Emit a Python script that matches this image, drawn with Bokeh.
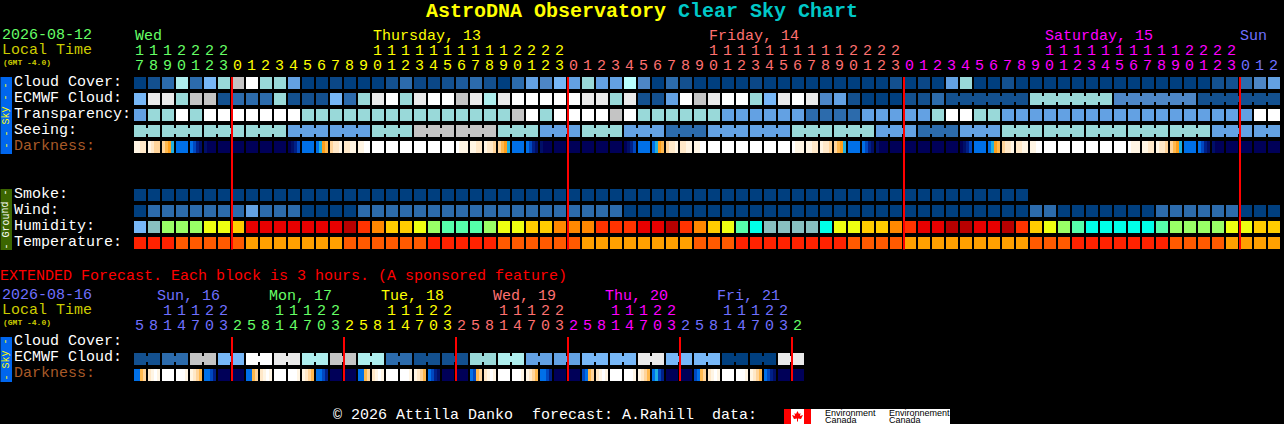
from bokeh.plotting import figure
from bokeh.models import ColumnDataSource, Range1d
from bokeh.core.properties import value
from bokeh.embed import file_html
from bokeh.resources import INLINE

# ---------- DATA ----------
cloud_cover = [0,10,20,70,20,50,60,80,100,60,60,40,0,0,5,0,0,0,10,20,5,
               5,10,15,20,10,0,20,40,30,50,40,60,40,40,72,30,0,20,10,0,0,0,0,5,0,0,0,0,0,0,0,
               0,0,10,0,5,0,40,60,0,0,10,0,0,0,0,0,0,0,0,0,0,0,0,0,0,10,10,20,30,40]
ecmwf_cloud = [50,90,90,60,80,80,10,20,20,20,60,10,10,10,50,20,60,90,100,60,90,
               100,100,80,90,70,90,100,100,100,100,100,90,90,60,90,10,10,40,100,80,90,100,100,60,50,90,100,90,30,40,10,
               0,0,0,10,10,20,10,10,10,10,10,10,60,60,60,60,60,60,30,30,30,30,30,30,10,10,10,10,10,10]
transparency = [40,60,60,100,60,100,100,100,100,100,100,100,60,60,60,60,60,60,60,60,60,
                60,60,60,60,60,60,80,100,60,100,100,100,100,80,100,60,60,60,60,60,60,40,40,40,40,40,40,20,20,20,20,
                40,40,40,40,40,60,100,100,60,60,40,40,40,40,40,40,40,40,40,40,40,40,40,40,40,40,40,40,100,100]
seeing = [60,60,60,60,60,60,60,60,60,60,60,40,40,40,40,40,40,60,60,60,80,
          80,80,80,80,80,60,60,60,40,40,40,60,60,60,40,40,40,20,20,20,40,40,40,40,40,40,60,60,60,60,60,
          60,40,40,40,20,20,20,40,40,40,60,60,60,60,60,60,60,60,60,60,60,60,60,60,60,40,40,40,40,40]
smoke = [0]*64
wind = [0,20,20,20,20,20,20,20,40,20,20,20,0,0,0,0,20,20,20,20,20,
        20,20,20,20,20,20,20,20,20,20,20,20,20,20,0,0,0,0,0,0,0,0,0,0,0,0,0,0,0,0,0,
        0,0,0,0,0,0,0,0,0,0,0,0,20,20,0,0,0,0,0,0,0,20,20,20,20,20,20,0,0,0]
humidity = [25,30,45,45,45,50,50,55,70,70,70,70,70,70,70,85,65,60,55,55,50,
            45,40,40,40,45,50,50,55,55,60,60,60,65,65,65,70,70,85,65,60,55,50,40,35,30,30,30,30,35,50,50,
            55,55,60,65,70,70,85,85,70,70,85,65,55,50,45,40,35,35,35,35,35,40,45,45,45,45,50,50,55,55]
temperature = [3,3,3,2,2,2,2,2,1,1,1,1,1,1,1,2,2,2,2,2,2,
               3,3,3,3,3,2,2,2,2,2,2,1,1,1,1,1,1,1,1,2,2,2,3,3,3,3,3,3,3,3,2,
               2,2,2,1,1,1,1,1,1,1,1,1,2,2,2,3,3,3,3,3,3,3,2,2,2,2,1,1,1,1]
darkness = [
 [1,1,2,2],[1,2,3,3],[3,4,5,6],[7,7,7,7],[7,8,9,10],[10,11,11,11],[11,11,11,11],[11,11,11,11],[11,11,11,11],[11,11,11,11],[11,11,11,11],
 [11,10,9,8],[7,7,7,7],[7,6,5,4],[3,2,2,1],[2,2,1,1],[1,1,0,0],[0,0,0,0],[0,0,0,0],[0,0,0,0],[0,0,0,0],[0,0,0,0],[0,0,0,0],
 [0,1,1,1],[1,1,2,2],[1,2,2,3],[3,4,5,6],[7,7,7,7],[7,8,9,10],[10,11,11,11],[11,11,11,11],[11,11,11,11],[11,11,11,11],[11,11,11,11],[11,11,11,11],
 [11,10,9,8],[7,7,7,7],[7,6,5,4],[3,2,2,1],[2,2,1,1],[1,1,0,0],[0,0,0,0],[0,0,0,0],[0,0,0,0],[0,0,0,0],[0,0,0,0],[0,0,0,0],
 [0,1,1,1],[1,1,2,2],[1,2,2,3],[3,4,5,6],[7,7,7,7],[7,8,9,10],[10,11,11,11],[11,11,11,11],[11,11,11,11],[11,11,11,11],[11,11,11,11],[11,11,11,11],
 [11,10,9,8],[7,7,7,7],[7,6,5,4],[3,2,2,1],[2,2,1,1],[1,1,0,0],[0,0,0,0],[0,0,0,0],[0,0,0,0],[0,0,0,0],[0,0,0,0],[0,0,0,0],
 [0,1,1,1],[1,1,2,2],[1,2,2,3],[3,4,5,6],[7,7,7,7],[7,8,9,10],[10,11,11,11],[11,11,11,11],[11,11,11,11],[11,11,11,11],[11,11,11,11],
]
ext_ecmwf = [10,10,20,20,80,80,50,50,100,100,90,90,70,70,80,80,70,70,20,20,10,10,10,10,
             60,60,70,70,40,40,40,40,50,50,50,50,90,90,50,50,50,50,0,0,0,0,90,90]
ext_darkness = [
 [7,7,4,3],[2,1,0,1],[0,0,0,0],[0,0,0,1],[1,2,3,4],[7,7,8,9],[11,11,11,11],[11,11,11,11],
 [7,7,4,3],[2,1,0,1],[0,0,0,0],[0,0,0,1],[1,2,3,4],[7,7,8,9],[11,11,11,11],[11,11,11,11],
 [7,7,4,3],[2,1,0,1],[0,0,0,0],[0,0,0,1],[1,2,3,4],[7,8,9,10],[11,11,11,11],[11,11,11,11],
 [7,8,4,3],[2,1,0,1],[0,0,0,0],[0,0,0,1],[1,2,3,4],[7,7,8,9],[11,11,11,11],[11,11,11,11],
 [8,7,4,3],[2,1,0,1],[0,0,0,0],[0,0,0,1],[1,2,3,4],[7,6,8,9],[11,11,11,11],[11,11,11,11],
 [8,7,4,3],[2,1,0,1],[0,0,0,0],[0,0,0,1],[1,2,3,4],[7,8,9,10],[11,11,11,11],[11,11,11,11],
]
main_tens = "1112222          11111111112222          11111111112222          11111111112222   "
main_ones = "7890123012345678901234567890123012345678901234567890123012345678901234567890123012"
ext_tens = "  11122   11122   11122   11122   11122   11122 "
ext_ones = "581470325814703258147032581470325814703258147032"
main_days = ["Wed","Thursday, 13","Friday, 14","Saturday, 15","Sun"]
ext_days = ["Sun, 16","Mon, 17","Tue, 18","Wed, 19","Thu, 20","Fri, 21"]
main_midnights = [7,31,55,79]
ext_midnights = [7,15,23,31,39,47]
seeing_groups = [(0,1)]+[(s,min(s+2,81)) for s in range(2,82,3)]
ecmwf_groups = [(58,63),(64,69),(70,75),(76,81)]
ext_groups = [(s,s+1) for s in range(0,48,2)]

# ---------- STYLES ----------
CLOUD = {0:"#003f7f",5:"#0b4787",10:"#13508f",15:"#1c5a9b",20:"#2c6bac",30:"#4d86c6",40:"#63a1e3",50:"#77b7f7",
         60:"#99d9d9",70:"#aeeeee",72:"#b8ffff",80:"#c4c4c4",90:"#eaeaea",100:"#ffffff"}
HUM = {25:"#77b7f7",30:"#88c0c0",35:"#00ffe8",40:"#55ffaa",45:"#99ff66",50:"#eeff11",55:"#ffcc00",60:"#ff8800",
       65:"#ff3300",70:"#e80000",85:"#b80000"}
TEMP = {1:"#ffa000",2:"#ff5a00",3:"#ff2200"}
DARK = ["#ffffff","#fff5e4","#ffe8c8","#ffd49a","#ffb84d","#ff9f1a","#20b0e0","#0070e8","#0048c0","#002088","#000f68","#000058"]
WED,THU,FRI,SAT,SUN = "#66ff66","#ffff00","#ff7070","#ff00ff","#7070ff"
MONO = value("Liberation Mono")

def X(px): return (px-134)/14
def Y(py): return (py-77)/16
CW, CH = 12/14, 12/16

p = figure(width=1284, height=424, output_backend="svg", toolbar_location=None, tools="",
           x_range=Range1d(X(0.5),X(1284.5)), y_range=Range1d(Y(424.5),Y(0.5)),
           x_axis_type=None, y_axis_type=None, min_border=0,
           background_fill_color="#000000", border_fill_color="#000000",
           styles={"position":"fixed","left":"0","top":"0","background":"#000000"})
p.outline_line_color = None
p.grid.visible = False

def cells(vals, cmap, row):
    xs = list(range(len(vals)))
    p.quad(left=xs, right=[x+CW for x in xs], top=[row]*len(xs), bottom=[row+CH]*len(xs),
           fill_color=[cmap[v] for v in vals], line_color=None)

def joins(groups, vals, cmap, row):
    l,r,c=[],[],[]
    for a,b in groups:
        for i in range(a,b):
            l.append(i+CW); r.append(i+1); c.append(cmap[vals[i]])
    p.quad(left=l,right=r,top=[row+3/16]*len(l),bottom=[row+9/16]*len(l),fill_color=c,line_color=None)

def dark(vals, row):
    l,r,c=[],[],[]
    for i,strip in enumerate(vals):
        n=len(strip)
        for k,v in enumerate(strip):
            l.append(i+CW*k/n); r.append(i+CW*(k+1)/n); c.append(DARK[v])
    p.quad(left=l,right=r,top=[row]*len(l),bottom=[row+CH]*len(l),fill_color=c,line_color=None)

def txt(x,y,t,color,size=15,align="left",angle=0,style="normal",font=MONO):
    p.text(x=[x],y=[y],text=[t],text_color=color,text_font=font,text_font_size=f"{size}px",
           text_align=align,text_baseline="middle",angle=angle,text_font_style=style)

# side bars
p.quad(left=[X(0)],right=[X(12)],top=[Y(77)],bottom=[Y(154)],fill_color="#0066ee",line_color=None)
p.quad(left=[X(0)],right=[X(12)],top=[Y(189)],bottom=[Y(250)],fill_color="#3c6600",line_color=None)
p.quad(left=[X(0)],right=[X(12)],top=[Y(337)],bottom=[Y(382)],fill_color="#0066ee",line_color=None)
txt(X(6),Y(115.5),"- - Sky - -","#ffff00",10,"center",1.5708)
txt(X(6),Y(219.5),"- Ground -","#ffffff",10,"center",1.5708)
txt(X(6),Y(359.5),"- Sky -","#ffff00",10,"center",1.5708)

# main rows
cells(cloud_cover,CLOUD,0)
cells(ecmwf_cloud,CLOUD,1); joins(ecmwf_groups,ecmwf_cloud,CLOUD,1)
cells(transparency,CLOUD,2)
cells(seeing,CLOUD,3); joins(seeing_groups,seeing,CLOUD,3)
dark(darkness,4)
cells(smoke,CLOUD,7)
cells(wind,CLOUD,8)
cells(humidity,HUM,9)
cells(temperature,TEMP,10)
# extended rows
ER1,ER2 = Y(353),Y(369)
cells(ext_ecmwf,CLOUD,ER1); joins(ext_groups,ext_ecmwf,CLOUD,ER1)
dark(ext_darkness,ER2)

# midnight lines
p.segment(x0=main_midnights,x1=main_midnights,y0=[Y(77)]*4,y1=[Y(249.5)]*4,line_color="#ff0000",line_width=2)
p.segment(x0=ext_midnights,x1=ext_midnights,y0=[Y(337)]*6,y1=[Y(381)]*6,line_color="#ff0000",line_width=2)

# labels
for r,(t,c) in zip([0,1,2,3,4,7,8,9,10],
        [("Cloud Cover:","#ffffff"),("ECMWF Cloud:","#ffffff"),("Transparency:","#ffffff"),("Seeing:","#ffffff"),
         ("Darkness:","#a85a28"),("Smoke:","#ffffff"),("Wind:","#ffffff"),("Humidity:","#ffffff"),("Temperature:","#ffffff")]):
    txt(X(14),r+5/16,t,c)
for py,(t,c) in zip([341.5,357.5,373.5],[("Cloud Cover:","#ffffff"),("ECMWF Cloud:","#ffffff"),("Darkness:","#a85a28")]):
    txt(X(14),Y(py),t,c)

# hours main
def col_main(i): return WED if i<7 else THU if i<31 else FRI if i<55 else SAT if i<79 else SUN
def col_ext(i): return SUN if i<7 else WED if i<15 else THU if i<23 else FRI if i<31 else SAT if i<39 else SUN if i<47 else WED
def digits(s,py,colf):
    idx=[i for i,ch in enumerate(s) if ch!=" "]
    src=ColumnDataSource(dict(x=[i+5.5/14 for i in idx],y=[Y(py)]*len(idx),t=[s[i] for i in idx],c=[colf(i) for i in idx]))
    p.text(x="x",y="y",text="t",text_color="c",source=src,text_font=MONO,text_font_size="15px",text_align="center",text_baseline="middle")
digits(main_tens,49.5,col_main); digits(main_ones,64.5,col_main)
digits(ext_tens,309.5,col_ext); digits(ext_ones,324.5,col_ext)

for x,t,c in zip([135,373,709,1045,1240],main_days,[WED,THU,FRI,SAT,SUN]):
    txt(X(x),Y(36),t,c)
for x,t,c in zip([157,269,381,493,605,717],ext_days,[SUN,WED,THU,FRI,SAT,SUN]):
    txt(X(x),Y(296),t,c)

# header text
txt(X(426),Y(11),"AstroDNA Observatory","#ffff00",20,style="bold")
txt(X(678),Y(11),"Clear Sky Chart","#00c8c8",20,style="bold")
txt(X(2),Y(33.5),"2026-08-12",WED)
txt(X(2),Y(50),"Local Time","#cccc00")
txt(X(3),Y(62),"(GMT -4.0)","#cccc00",8,style="bold")
txt(X(0),Y(276),"EXTENDED Forecast. Each block is 3 hours. (A sponsored feature)","#ff0000")
txt(X(2),Y(293.5),"2026-08-16",SUN)
txt(X(2),Y(310),"Local Time","#cccc00")
txt(X(3),Y(322),"(GMT -4.0)","#cccc00",8,style="bold")
txt(X(333),Y(415.5),"\u00a9 2026 Attilla Danko","#ffffff")
txt(X(532),Y(415.5),"forecast: A.Rahill","#ffffff")
txt(X(712),Y(415.5),"data:","#ffffff")

# Environment Canada logo
p.quad(left=[X(784)],right=[X(950)],top=[Y(409)],bottom=[Y(424)],fill_color="#ffffff",line_color=None)
p.quad(left=[X(784),X(804)],right=[X(791),X(811)],top=[Y(409)]*2,bottom=[Y(424)]*2,fill_color="#ff0000",line_color=None)
leaf_x=[797.5,799,800.5,800,803,802,801,798,798,797,797,794,793,792,795,794.5,796]
leaf_y=[411,414,413,416,415,417,419,418.5,421.5,421.5,418.5,419,417,415,416,413,414]
p.patch([X(v) for v in leaf_x],[Y(v) for v in leaf_y],fill_color="#ff0000",line_color=None)
SANS = value("Liberation Sans")
txt(X(825),Y(413),"Environment","#000000",9,font=SANS)
txt(X(825),Y(419.5),"Canada","#000000",9,font=SANS)
txt(X(889),Y(413),"Environnement","#000000",9,font=SANS)
txt(X(889),Y(419.5),"Canada","#000000",9,font=SANS)

open("out.html","w").write(file_html(p, INLINE))
